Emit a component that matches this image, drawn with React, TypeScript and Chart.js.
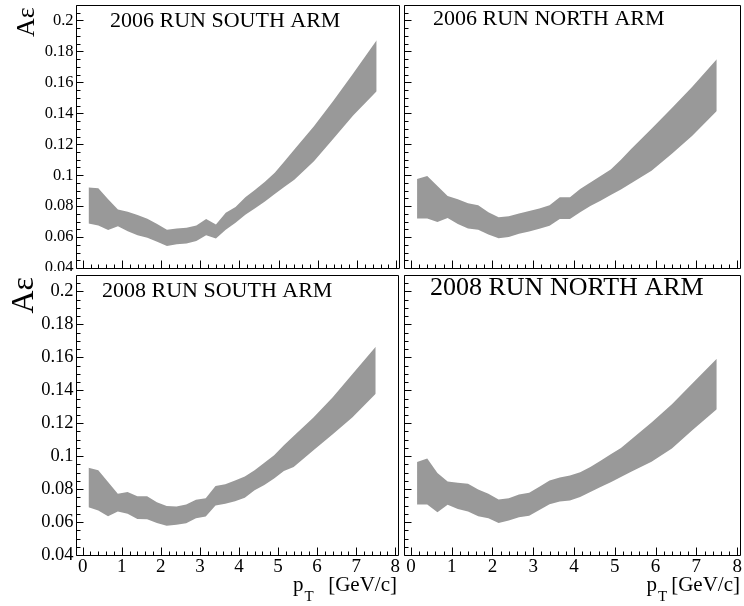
import React, { useEffect, useRef } from 'react';
import { Chart, registerables } from 'chart.js';

Chart.register(...registerables);

// ---------- data ----------
const ptValues = [0.15, 0.4, 0.65, 0.9, 1.15, 1.4, 1.65, 1.9, 2.15, 2.4, 2.65, 2.9, 3.15, 3.4, 3.65, 3.9, 4.15, 4.4, 4.65, 4.9, 5.15, 5.4, 5.9, 6.4, 6.9, 7.5];

const south2006Upper = [0.092, 0.0915, 0.0845, 0.0778, 0.0763, 0.0742, 0.0718, 0.0685, 0.0648, 0.0655, 0.066, 0.0675, 0.0717, 0.0681, 0.0757, 0.0795, 0.0858, 0.0905, 0.0957, 0.1015, 0.109, 0.1166, 0.1317, 0.1482, 0.1658, 0.1872];
const south2006Lower = [0.0687, 0.0675, 0.0645, 0.067, 0.0637, 0.0612, 0.0595, 0.057, 0.0543, 0.0553, 0.0558, 0.0575, 0.0611, 0.059, 0.0648, 0.0692, 0.0745, 0.0787, 0.083, 0.0879, 0.0925, 0.097, 0.109, 0.1237, 0.1385, 0.1542];

const north2006Upper = [0.0975, 0.0994, 0.093, 0.0866, 0.0845, 0.0819, 0.0805, 0.076, 0.0728, 0.0735, 0.0752, 0.0768, 0.0785, 0.0805, 0.0858, 0.0858, 0.091, 0.0953, 0.0995, 0.1036, 0.11, 0.117, 0.13, 0.1435, 0.1572, 0.1749];
const north2006Lower = [0.072, 0.072, 0.0698, 0.0724, 0.0685, 0.0655, 0.0647, 0.0617, 0.0592, 0.06, 0.0622, 0.0636, 0.0653, 0.0673, 0.0717, 0.0717, 0.076, 0.08, 0.0835, 0.0872, 0.0908, 0.0948, 0.1029, 0.1138, 0.1255, 0.1415];

const south2008Upper = [0.093, 0.0914, 0.0843, 0.0772, 0.0782, 0.0757, 0.0756, 0.0721, 0.0697, 0.0695, 0.0707, 0.0735, 0.0745, 0.0819, 0.083, 0.0852, 0.0876, 0.0915, 0.096, 0.1005, 0.1067, 0.1123, 0.1233, 0.1358, 0.1497, 0.1664];
const south2008Lower = [0.069, 0.067, 0.0635, 0.0664, 0.065, 0.0619, 0.0617, 0.0595, 0.0578, 0.0583, 0.0593, 0.0623, 0.0633, 0.0701, 0.0711, 0.0727, 0.0747, 0.0793, 0.0825, 0.0865, 0.091, 0.0935, 0.1035, 0.1133, 0.1235, 0.1379];

const north2008Upper = [0.0965, 0.0986, 0.0898, 0.0847, 0.0839, 0.0833, 0.0797, 0.0772, 0.0737, 0.0745, 0.0768, 0.0778, 0.0815, 0.0852, 0.087, 0.0882, 0.0902, 0.0935, 0.0972, 0.1012, 0.105, 0.1101, 0.1205, 0.1316, 0.1441, 0.1591];
const north2008Lower = [0.0707, 0.0707, 0.066, 0.0705, 0.068, 0.0664, 0.0635, 0.0623, 0.0595, 0.0609, 0.0629, 0.0638, 0.0673, 0.0708, 0.0725, 0.0731, 0.0752, 0.0782, 0.0813, 0.0842, 0.0873, 0.0905, 0.0966, 0.1047, 0.1157, 0.1285];

const panelTitles = ['2006 RUN SOUTH ARM', '2006 RUN NORTH ARM', '2008 RUN SOUTH ARM', '2008 RUN NORTH ARM'];

const xTickValues = [0, 1, 2, 3, 4, 5, 6, 7, 8];
const xTickLabels = ['0', '1', '2', '3', '4', '5', '6', '7', '8'];
const yTickValues = [0.04, 0.06, 0.08, 0.1, 0.12, 0.14, 0.16, 0.18, 0.2];
const yTickLabels = ['0.04', '0.06', '0.08', '0.1', '0.12', '0.14', '0.16', '0.18', '0.2'];

const yAxisTitle = 'A\u03b5';
const xAxisTitleMain = 'p';
const xAxisTitleSub = 'T';
const xAxisTitleUnit = '[GeV/c]';

const X_MIN = -0.17;
const X_MAX = 8.07;
const Y_MIN = 0.04;
const Y_MAX = 0.21;

// ---------- layout (positions / styles) ----------
const W = 744;
const H = 606;
const FONT = '"Liberation Serif", "Times New Roman", serif';
const BAND = '#999999';

type PanelCfg = {
  upper: number[];
  lower: number[];
  title: string;
  area: { left: number; top: number; right: number; bottom: number };
  clip: { x0: number; y0: number; x1: number; y1: number };
  titlePos: { x: number; y: number; size: number };
  yLabels: boolean;
  yLabelSize: number;
  yTitle?: { x: number; y: number; size: number };
  xLabels: boolean;
  xLabelSize: number;
  xTitle?: { px: number; right: number; y: number; size: number };
};

const panels: PanelCfg[] = [
  {
    upper: south2006Upper, lower: south2006Lower, title: panelTitles[0],
    area: { left: 76, top: 5, right: 399, bottom: 268 },
    clip: { x0: 0, y0: 0, x1: 401, y1: 271 },
    titlePos: { x: 110, y: 26.5, size: 22 },
    yLabels: true, yLabelSize: 16.5,
    yTitle: { x: 33.5, y: 37, size: 26 },
    xLabels: false, xLabelSize: 19,
  },
  {
    upper: north2006Upper, lower: north2006Lower, title: panelTitles[1],
    area: { left: 404, top: 5, right: 740, bottom: 268 },
    clip: { x0: 401, y0: 0, x1: 744, y1: 271 },
    titlePos: { x: 433, y: 25, size: 22 },
    yLabels: false, yLabelSize: 16.5,
    xLabels: false, xLabelSize: 19,
  },
  {
    upper: south2008Upper, lower: south2008Lower, title: panelTitles[2],
    area: { left: 76, top: 275, right: 398, bottom: 555 },
    clip: { x0: 0, y0: 271, x1: 401, y1: 606 },
    titlePos: { x: 102, y: 296.5, size: 22 },
    yLabels: true, yLabelSize: 18.5,
    yTitle: { x: 33, y: 313.5, size: 32 },
    xLabels: true, xLabelSize: 19,
    xTitle: { px: 293, right: 397, y: 591, size: 21 },
  },
  {
    upper: north2008Upper, lower: north2008Lower, title: panelTitles[3],
    area: { left: 404, top: 275, right: 740, bottom: 555 },
    clip: { x0: 401, y0: 271, x1: 744, y1: 606 },
    titlePos: { x: 430, y: 295, size: 26 },
    yLabels: false, yLabelSize: 18.5,
    xLabels: true, xLabelSize: 19,
    xTitle: { px: 646.5, right: 740, y: 591, size: 21 },
  },
];

function makePlugin(cfg: PanelCfg) {
  return {
    id: 'rootFrame',
    afterDraw(chart: any) {
      const { ctx, chartArea: a } = chart;
      const xs = chart.scales.x;
      const ys = chart.scales.y;
      ctx.save();
      ctx.beginPath();
      ctx.rect(cfg.clip.x0, cfg.clip.y0, cfg.clip.x1 - cfg.clip.x0, cfg.clip.y1 - cfg.clip.y0);
      ctx.clip();

      ctx.strokeStyle = '#000';
      ctx.fillStyle = '#000';
      ctx.lineWidth = 1;

      const L = Math.round(a.left) + 0.5;
      const T = Math.round(a.top) + 0.5;
      const R = Math.round(a.right) + 0.5;
      const B = Math.round(a.bottom) + 0.5;
      ctx.beginPath();
      ctx.rect(L, T, R - L, B - T);
      ctx.stroke();

      // y ticks (major every 0.02, minor every 0.005)
      ctx.beginPath();
      for (let i = 8; i <= 42; i++) {
        const v = i * 0.005;
        if (v < Y_MIN - 1e-9 || v > Y_MAX + 1e-9) continue;
        const py = Math.round(ys.getPixelForValue(v)) + 0.5;
        const len = i % 4 === 0 ? 7 : 4;
        ctx.moveTo(L, py);
        ctx.lineTo(L + len, py);
      }
      // x ticks (major every 1, minor every 0.2)
      for (let i = 0; i <= 40; i++) {
        const v = i * 0.2;
        if (v > X_MAX) continue;
        const px = Math.round(xs.getPixelForValue(v)) + 0.5;
        const len = i % 5 === 0 ? 8 : 4;
        ctx.moveTo(px, B);
        ctx.lineTo(px, B - len);
      }
      ctx.stroke();

      if (cfg.yLabels) {
        ctx.font = `${cfg.yLabelSize}px ${FONT}`;
        ctx.textAlign = 'right';
        ctx.textBaseline = 'middle';
        yTickValues.forEach((v, k) => {
          ctx.fillText(yTickLabels[k], a.left - 2.5, ys.getPixelForValue(v));
        });
      }
      if (cfg.xLabels) {
        ctx.font = `${cfg.xLabelSize}px ${FONT}`;
        ctx.textAlign = 'center';
        ctx.textBaseline = 'alphabetic';
        xTickValues.forEach((v, k) => {
          ctx.fillText(xTickLabels[k], xs.getPixelForValue(v), a.bottom + 17);
        });
      }

      // panel title
      ctx.font = `${cfg.titlePos.size}px ${FONT}`;
      ctx.textAlign = 'left';
      ctx.textBaseline = 'alphabetic';
      ctx.fillText(cfg.title, cfg.titlePos.x, cfg.titlePos.y);

      // y axis title
      if (cfg.yTitle) {
        ctx.save();
        ctx.translate(cfg.yTitle.x, cfg.yTitle.y);
        ctx.rotate(-Math.PI / 2);
        ctx.font = `${cfg.yTitle.size}px ${FONT}`;
        ctx.textAlign = 'left';
        ctx.textBaseline = 'alphabetic';
        ctx.fillText(yAxisTitle, 0, 0);
        ctx.restore();
      }

      // x axis title
      if (cfg.xTitle) {
        const t = cfg.xTitle;
        ctx.font = `${t.size}px ${FONT}`;
        ctx.textAlign = 'left';
        ctx.fillText(xAxisTitleMain, t.px, t.y);
        const pw = ctx.measureText(xAxisTitleMain).width;
        ctx.font = `${Math.round(t.size * 0.72)}px ${FONT}`;
        ctx.fillText(xAxisTitleSub, t.px + pw + 1, t.y + 10);
        ctx.font = `${t.size}px ${FONT}`;
        ctx.textAlign = 'right';
        ctx.fillText(xAxisTitleUnit, t.right, t.y);
      }
      ctx.restore();
    },
  };
}

function Panel({ cfg }: { cfg: PanelCfg }) {
  const ref = useRef<HTMLCanvasElement | null>(null);
  useEffect(() => {
    if (!ref.current) return;
    const lowerPts = ptValues.map((x, i) => ({ x, y: cfg.lower[i] }));
    const upperPts = ptValues.map((x, i) => ({ x, y: cfg.upper[i] }));
    const chart = new Chart(ref.current, {
      type: 'line',
      data: {
        datasets: [
          {
            data: lowerPts,
            borderColor: 'rgba(0,0,0,0)',
            borderWidth: 0,
            backgroundColor: BAND,
            pointRadius: 0,
            fill: false,
            tension: 0,
          },
          {
            data: upperPts,
            borderColor: 'rgba(0,0,0,0)',
            borderWidth: 0,
            backgroundColor: BAND,
            pointRadius: 0,
            fill: '-1',
            tension: 0,
          },
        ],
      },
      options: {
        animation: false,
        responsive: false,
        devicePixelRatio: 1,
        events: [],
        layout: {
          padding: {
            left: cfg.area.left,
            top: cfg.area.top,
            right: W - cfg.area.right,
            bottom: H - cfg.area.bottom,
          },
        },
        scales: {
          x: { type: 'linear', min: X_MIN, max: X_MAX, display: false },
          y: { type: 'linear', min: Y_MIN, max: Y_MAX, display: false },
        },
        plugins: {
          legend: { display: false },
          tooltip: { enabled: false },
        },
      },
      plugins: [makePlugin(cfg)],
    } as any);
    return () => chart.destroy();
  }, [cfg]);
  return (
    <canvas
      ref={ref}
      width={W}
      height={H}
      style={{ position: 'absolute', left: 0, top: 0, width: W, height: H }}
    />
  );
}

export default function App() {
  return (
    <div style={{ position: 'fixed', left: 0, top: 0, width: W, height: H, background: '#fff', overflow: 'hidden' }}>
      {panels.map((p, i) => (
        <Panel key={i} cfg={p} />
      ))}
    </div>
  );
}
